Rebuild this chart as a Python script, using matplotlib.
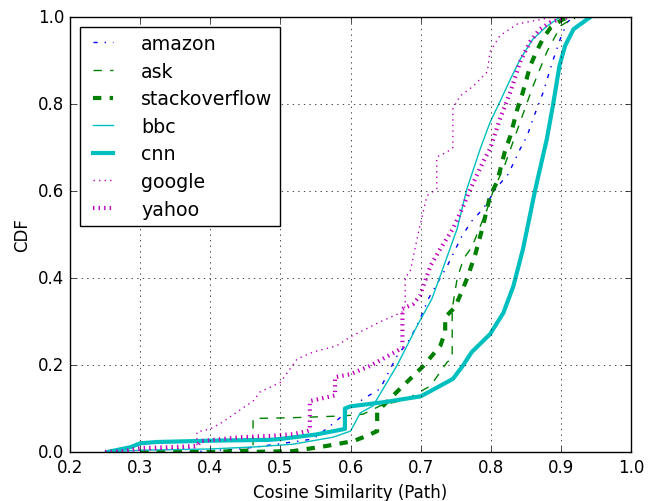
import matplotlib
matplotlib.use('Agg')
import matplotlib.pyplot as plt

plt.style.use('classic')

# CDF points
amazon_x = [0.37, 0.39, 0.442, 0.495, 0.547, 0.571, 0.60, 0.618, 0.642, 0.666, 0.685, 0.699, 0.711,
            0.738, 0.759, 0.773, 0.789, 0.809, 0.825, 0.842, 0.852, 0.86, 0.875, 0.888, 0.899, 0.909, 0.918]
amazon_y = [0.0, 0.002, 0.007, 0.018, 0.03, 0.06, 0.099, 0.122, 0.145, 0.22, 0.26, 0.305, 0.352,
            0.428, 0.497, 0.531, 0.559, 0.609, 0.639, 0.697, 0.727, 0.765, 0.828, 0.897, 0.949, 0.988, 1.0]

ask_x = [0.30, 0.40, 0.461, 0.461, 0.52, 0.59, 0.618, 0.642, 0.681, 0.714, 0.738, 0.745, 0.745, 0.752,
         0.761, 0.773, 0.795, 0.803, 0.82, 0.84, 0.86, 0.88, 0.90, 0.92]
ask_y = [0.0, 0.003, 0.007, 0.077, 0.079, 0.083, 0.087, 0.106, 0.122, 0.152, 0.207, 0.214, 0.329, 0.398,
         0.444, 0.471, 0.559, 0.598, 0.66, 0.75, 0.84, 0.92, 0.98, 1.0]

so_x = [0.30, 0.45, 0.518, 0.566, 0.604, 0.623, 0.638, 0.638, 0.642, 0.666, 0.685, 0.704, 0.728, 0.735,
        0.735, 0.749, 0.756, 0.766, 0.778, 0.789, 0.799, 0.809, 0.82, 0.828, 0.838, 0.845, 0.851, 0.856,
        0.865, 0.875, 0.886, 0.903, 0.92]
so_y = [0.0, 0.0, 0.002, 0.014, 0.025, 0.037, 0.048, 0.092, 0.099, 0.138, 0.168, 0.198, 0.244, 0.276,
        0.31, 0.333, 0.359, 0.398, 0.455, 0.52, 0.589, 0.621, 0.69, 0.727, 0.789, 0.823, 0.857, 0.887,
        0.92, 0.952, 0.977, 0.995, 1.0]

bbc_x = [0.25, 0.30, 0.40, 0.467, 0.518, 0.575, 0.60, 0.614, 0.632, 0.666, 0.695, 0.716, 0.728, 0.752,
         0.766, 0.785, 0.799, 0.813, 0.828, 0.842, 0.86, 0.88, 0.899]
bbc_y = [0.0, 0.004, 0.007, 0.012, 0.018, 0.034, 0.048, 0.09, 0.106, 0.198, 0.29, 0.352, 0.405, 0.513,
         0.605, 0.697, 0.758, 0.805, 0.857, 0.903, 0.949, 0.979, 1.0]

cnn_x = [0.253, 0.286, 0.30, 0.324, 0.40, 0.485, 0.50, 0.55, 0.592, 0.592, 0.60, 0.65, 0.70, 0.714,
         0.746, 0.76, 0.773, 0.799, 0.818, 0.832, 0.846, 0.863, 0.880, 0.889, 0.898, 0.906, 0.918, 0.942]
cnn_y = [0.0, 0.011, 0.020, 0.023, 0.026, 0.028, 0.030, 0.040, 0.053, 0.100, 0.105, 0.115, 0.128, 0.14,
         0.168, 0.198, 0.23, 0.271, 0.32, 0.38, 0.467, 0.6, 0.72, 0.8, 0.888, 0.934, 0.972, 1.0]

google_x = [0.25, 0.30, 0.343, 0.381, 0.381, 0.40, 0.418, 0.438, 0.461, 0.471, 0.50, 0.524, 0.547, 0.58,
            0.60, 0.642, 0.674, 0.678, 0.678, 0.685, 0.697, 0.709, 0.723, 0.723, 0.738, 0.746, 0.746,
            0.756, 0.775, 0.795, 0.799, 0.813, 0.838, 0.86, 0.889]
google_y = [0.0, 0.004, 0.007, 0.01, 0.046, 0.053, 0.069, 0.092, 0.117, 0.138, 0.16, 0.214, 0.23, 0.244,
            0.265, 0.299, 0.322, 0.336, 0.402, 0.414, 0.506, 0.589, 0.605, 0.678, 0.69, 0.70, 0.789,
            0.818, 0.841, 0.874, 0.92, 0.957, 0.984, 0.991, 1.0]

yahoo_x = [0.25, 0.276, 0.30, 0.343, 0.381, 0.386, 0.443, 0.485, 0.518, 0.538, 0.542, 0.542, 0.575,
           0.578, 0.578, 0.60, 0.628, 0.666, 0.674, 0.674, 0.689, 0.699, 0.714, 0.728, 0.746, 0.761,
           0.771, 0.78, 0.789, 0.799, 0.813, 0.828, 0.842, 0.856, 0.87, 0.885, 0.899, 0.91]
yahoo_y = [0.0, 0.002, 0.009, 0.011, 0.014, 0.025, 0.034, 0.037, 0.041, 0.048, 0.05, 0.117, 0.129,
           0.13, 0.172, 0.179, 0.198, 0.232, 0.24, 0.329, 0.34, 0.359, 0.428, 0.467, 0.513, 0.566,
           0.605, 0.636, 0.667, 0.697, 0.765, 0.828, 0.897, 0.943, 0.972, 0.988, 0.995, 1.0]

fig = plt.figure(figsize=(6.5, 5.02), dpi=100, facecolor='white')
ax = fig.add_axes([0.1077, 0.0976, 0.8631, 0.8665])

ax.plot(amazon_x, amazon_y, 'b-.', lw=1, label='amazon')
ax.plot(ask_x, ask_y, 'g--', lw=1, label='ask')
ax.plot(so_x, so_y, 'g--', lw=3, label='stackoverflow')
ax.plot(bbc_x, bbc_y, 'c-', lw=1, label='bbc')
ax.plot(cnn_x, cnn_y, 'c-', lw=3, label='cnn')
ax.plot(google_x, google_y, 'm:', lw=1, label='google')
ax.plot(yahoo_x, yahoo_y, 'm:', lw=3, label='yahoo')

ax.set_xlim(0.2, 1.0)
ax.set_ylim(0.0, 1.0)
ax.set_xlabel('Cosine Similarity (Path)')
ax.set_ylabel('CDF')
ax.grid(True)
ax.legend(loc='upper left', fontsize=13.7, handlelength=1.65, handletextpad=1.2,
          labelspacing=0.45)

fig.savefig('out.png', dpi=100, facecolor='white')
